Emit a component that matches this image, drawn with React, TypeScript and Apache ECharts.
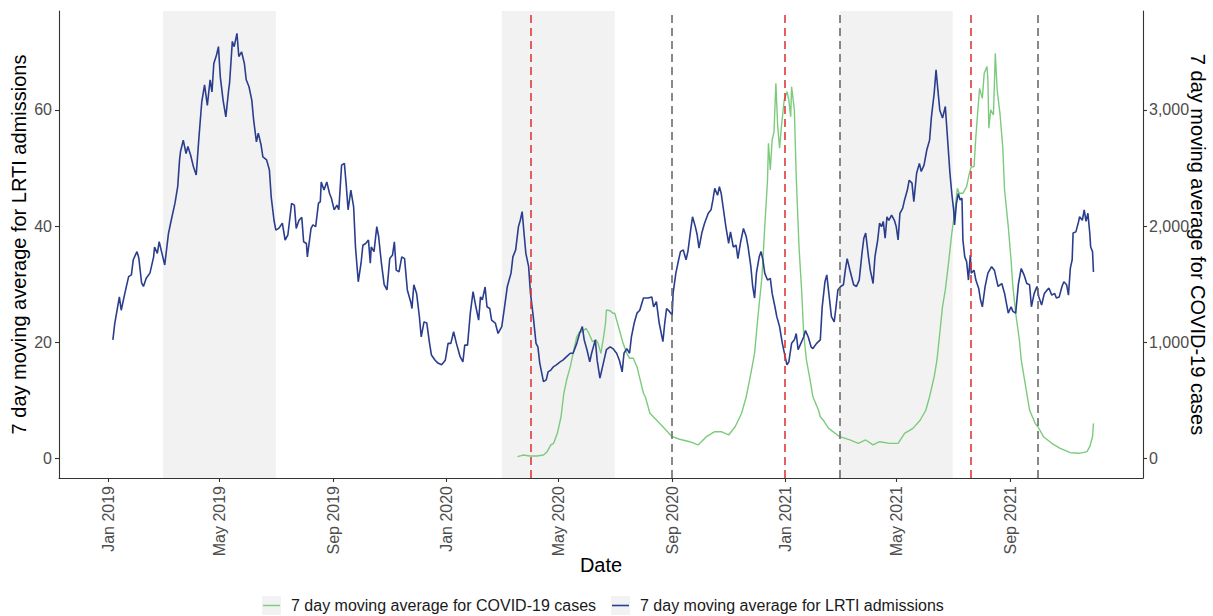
import React, { useEffect, useRef } from "react";
import * as echarts from "echarts";

// Days since 1 Jan 2019 and 7-day moving average of LRTI admissions
const lrtiDay = [5, 7, 12, 14, 18, 22, 25, 27, 31, 33, 36, 38, 41, 45, 49, 50, 53, 55, 58, 61, 65, 68, 72, 75, 77, 78, 81, 84, 86, 89, 92, 95, 98, 101, 104, 107, 110, 112, 114, 117, 119, 121, 124, 127, 130, 131, 134, 136, 139, 141, 144, 147, 149, 152, 155, 157, 160, 162, 165, 167, 171, 174, 176, 179, 181, 184, 185, 188, 191, 194, 198, 201, 203, 206, 209, 211, 214, 215, 219, 221, 224, 227, 229, 230, 233, 236, 239, 241, 244, 247, 249, 252, 255, 257, 259, 262, 265, 267, 270, 273, 275, 278, 281, 283, 284, 287, 290, 292, 295, 298, 301, 304, 307, 309, 311, 314, 317, 320, 323, 327, 328, 330, 333, 336, 338, 341, 344, 347, 349, 353, 356, 360, 364, 367, 370, 373, 376, 380, 383, 385, 388, 391, 394, 397, 400, 402, 404, 407, 409, 412, 414, 418, 421, 425, 428, 431, 435, 437, 440, 443, 445, 447, 449, 451, 454, 456, 459, 462, 464, 466, 470, 473, 475, 478, 481, 484, 488, 491, 495, 499, 502, 506, 509, 512, 514, 517, 520, 522, 526, 528, 531, 535, 538, 542, 545, 549, 552, 555, 557, 560, 563, 565, 568, 571, 574, 578, 583, 587, 589, 592, 595, 599, 601, 603, 606, 609, 610, 613, 616, 618, 621, 624, 626, 629, 631, 634, 636, 638, 641, 644, 648, 651, 653, 655, 658, 660, 662, 664, 667, 670, 672, 675, 678, 680, 683, 686, 689, 691, 694, 696, 698, 700, 703, 705, 707, 709, 712, 715, 717, 720, 722, 725, 728, 731, 733, 735, 738, 741, 743, 745, 748, 751, 753, 756, 759, 761, 765, 769, 771, 774, 776, 779, 781, 784, 786, 788, 791, 794, 796, 798, 801, 805, 808, 811, 814, 816, 818, 821, 823, 826, 828, 831, 833, 835, 837, 839, 841, 843, 846, 849, 851, 853, 855, 858, 860, 863, 865, 868, 870, 873, 876, 878, 881, 884, 887, 889, 892, 894, 896, 898, 901, 904, 905, 907, 909, 911, 913, 914, 916, 918, 920, 922, 923, 925, 927, 929, 931, 932, 935, 937, 940, 942, 944, 947, 950, 954, 957, 959, 961, 965, 968, 970, 972, 975, 977, 980, 983, 986, 989, 992, 995, 997, 1000, 1003, 1005, 1008, 1011, 1014, 1016, 1019, 1022, 1024, 1027, 1030, 1032, 1035, 1037, 1039, 1041, 1042, 1045, 1048, 1049, 1052, 1054, 1056, 1058, 1060, 1061, 1063, 1064];
const lrtiValue = [20.4, 23.2, 27.8, 25.5, 28.5, 31.3, 31.6, 34.2, 35.6, 34.5, 30.2, 29.6, 31, 31.9, 34.7, 36.4, 35.3, 37.3, 35.3, 33.3, 38.7, 41, 43.9, 46.8, 51.4, 52.8, 54.8, 52.5, 53.7, 52.2, 50.2, 48.8, 55.4, 61.4, 64.3, 60.8, 65.2, 63.1, 68, 69.5, 70.9, 65.7, 61.7, 58.8, 63.4, 64.6, 71.8, 70.9, 73.2, 69.2, 70, 68, 65.2, 64, 61.7, 58.3, 54.5, 56, 54, 51.9, 51.4, 49.7, 45, 41, 39.3, 39.6, 39.8, 40.5, 37.6, 38.5, 43.9, 43.6, 39.6, 41, 41.5, 37.3, 37, 34.7, 39.6, 40.2, 39.9, 43.9, 44.2, 47.6, 46.2, 47.6, 45.6, 44.8, 42.8, 43.6, 42.8, 50.5, 50.8, 47.1, 42.8, 46.2, 43.3, 36.4, 30.4, 33.6, 36.7, 37, 37.6, 33.6, 36.4, 35.6, 39.9, 38.2, 33.6, 29.9, 29, 34.4, 35, 37.3, 32.4, 32.1, 34.7, 34.4, 29, 26.7, 25.8, 29.9, 28.4, 24.4, 20.9, 23.5, 23.3, 19.8, 17.8, 16.9, 16.4, 16.1, 16.9, 19.8, 19.8, 21.8, 19.8, 17.5, 16.6, 19.5, 19.5, 25, 28.7, 26.1, 23.8, 27.8, 27.3, 29.5, 26.1, 25.8, 23.8, 23.3, 21.5, 22.7, 26.1, 29.6, 31.9, 34.7, 35.9, 39.9, 41, 42.5, 38.8, 35.3, 33, 28.4, 24.4, 19.8, 19.2, 16.4, 13.2, 13.5, 14.9, 15.2, 15.8, 16.1, 16.6, 16.9, 17.5, 18.1, 18.1, 19.8, 21.5, 22.7, 20.4, 18.7, 16.6, 18.1, 20.4, 16.9, 13.8, 16.6, 18.7, 19.2, 18.9, 18.1, 16.9, 14.9, 18.1, 18.9, 18.1, 20.9, 23.3, 25, 25.5, 27.6, 27.6, 27.8, 26.1, 27, 23.3, 20.1, 23.3, 25.8, 25.3, 24.7, 28.4, 31.9, 34.2, 35.6, 35.9, 34.2, 35.6, 39.3, 41.6, 39.9, 38.5, 36.2, 38.8, 40.5, 42.2, 42.8, 44.5, 46.5, 45.3, 46.8, 45.6, 43.3, 39.9, 37, 39, 36.4, 36.7, 34.4, 37.3, 39.6, 38.2, 36.4, 33, 29.6, 27.6, 31.9, 34.7, 35.6, 34.2, 31.9, 30.7, 31, 28.4, 26.1, 24.4, 22.7, 19.8, 17.5, 16.1, 16.6, 19.8, 20.4, 21.5, 18.7, 19.8, 20.9, 22, 20.9, 19.2, 18.9, 19.8, 20.4, 26, 30.4, 31.6, 27.3, 24.4, 23.5, 26.1, 29, 29.6, 29.9, 32.4, 34.4, 32.4, 29.9, 29.6, 30.7, 35.3, 37.9, 38.8, 34.7, 32.4, 30.1, 34.7, 37.6, 40.5, 39.9, 40.8, 37.9, 41.6, 41, 41.9, 41, 39.9, 37.6, 42.2, 43.1, 44.5, 46.2, 47.9, 47.4, 44.2, 49.1, 50.8, 49.4, 50.5, 53.1, 54.8, 58.8, 62.9, 66.9, 63.4, 60, 58.6, 60.6, 58.3, 53.7, 49.1, 45.6, 42.8, 40.2, 43.9, 45.6, 44.5, 44.8, 37.6, 34.7, 33.9, 30.7, 35, 31.9, 32.4, 30.7, 29.3, 27.3, 26.1, 29.6, 31.9, 33, 32.4, 31, 29.6, 30.1, 28.4, 26.7, 25, 26.1, 25.3, 25, 30.1, 32.7, 31.6, 30.1, 29.9, 26.1, 28.4, 29.6, 27.8, 26.4, 28.4, 29, 29.3, 28.1, 28.4, 27.6, 27.8, 29.6, 30.4, 29.9, 28.1, 32.7, 34.2, 38.8, 39, 40.8, 41.6, 41, 42.8, 40.8, 42.2, 38.8, 36.4, 35.6, 32.1];

// Days since 1 Jan 2019 and 7-day moving average of COVID-19 cases
const covidDay = [442, 448, 455, 463, 470, 474, 478, 481, 485, 489, 492, 495, 499, 502, 506, 509, 512, 516, 519, 523, 527, 529, 532, 535, 537, 538, 542, 545, 547, 550, 553, 556, 560, 563, 567, 571, 574, 578, 580, 585, 592, 599, 609, 617, 628, 637, 646, 655, 662, 670, 677, 684, 689, 694, 698, 702, 706, 709, 712, 713, 715, 717, 719, 721, 723, 725, 727, 730, 733, 735, 737, 738, 741, 743, 746, 749, 751, 754, 758, 761, 767, 769, 772, 778, 790, 801, 810, 818, 826, 833, 844, 853, 860, 869, 877, 883, 887, 892, 895, 898, 901, 904, 907, 911, 914, 917, 919, 923, 927, 930, 932, 935, 937, 940, 941, 944, 946, 949, 950, 951, 953, 956, 958, 960, 963, 966, 968, 972, 975, 977, 980, 984, 986, 989, 992, 995, 1001, 1004, 1010, 1019, 1028, 1039, 1049, 1057, 1060, 1063, 1064];
const covidCases = [14, 28, 20, 20, 28, 57, 115, 129, 215, 358, 560, 674, 789, 904, 1047, 1090, 1090, 1120, 1077, 1004, 1019, 990, 904, 1047, 1163, 1277, 1271, 1249, 1249, 1163, 1077, 990, 904, 861, 861, 789, 690, 560, 530, 388, 330, 272, 186, 164, 143, 115, 186, 229, 229, 201, 272, 388, 530, 732, 904, 1249, 1564, 1995, 2397, 2713, 2483, 2741, 2813, 3229, 2856, 2670, 2856, 3086, 3157, 3086, 2942, 3200, 3000, 2425, 1822, 1421, 1077, 847, 674, 530, 416, 358, 330, 258, 186, 158, 129, 158, 115, 143, 129, 129, 215, 258, 330, 416, 530, 703, 847, 1077, 1306, 1450, 1650, 1938, 2110, 2325, 2282, 2282, 2339, 2454, 2511, 2511, 2770, 3086, 3186, 3100, 3316, 3373, 3258, 2842, 3000, 2957, 3488, 3172, 2971, 2684, 2311, 1995, 1708, 1478, 1249, 1019, 847, 703, 560, 416, 301, 272, 186, 129, 86, 48, 43, 57, 100, 186, 301];

// Shaded seasons, dashed event lines, axis ticks (days since 1 Jan 2019)
const seasonStartDay = [59, 425, 790];
const seasonEndDay = [181, 547, 912];
const redLineDay = [456, 731, 931];
const greyLineDay = [609, 790, 1004];
const xTickDay = [0, 120, 243, 365, 486, 609, 731, 851, 974];
const xTickLabel = ["Jan 2019", "May 2019", "Sep 2019", "Jan 2020", "May 2020", "Sep 2020", "Jan 2021", "May 2021", "Sep 2021"];
const leftTicks = [0, 20, 40, 60];
const rightTicks = [0, 1000, 2000, 3000];

const covidName = "7 day moving average for COVID-19 cases";
const lrtiName = "7 day moving average for LRTI admissions";

const FONT = "'Liberation Sans', Arial, sans-serif";
const GREEN = "#7ccb7c";
const BLUE = "#2b3e8e";
const RED = "#dc3a3a";
const GREY = "#6b6b6b";

export default function App() {
  const ref = useRef<HTMLDivElement>(null);
  useEffect(() => {
    if (!ref.current) return;
    const chart = echarts.init(ref.current, undefined, { renderer: "svg" });
    const tickCol = "#4d4d4d";
    const axisLine = { show: true, onZero: false, lineStyle: { color: "#333333", width: 1.1 } };
    const axisTick = { show: true, length: 4, lineStyle: { color: "#333333", width: 1.1 } };
    chart.setOption({
      animation: false,
      grid: { left: 59, right: 70, top: 11, bottom: 138, containLabel: false, outerBoundsMode: "none" },
      xAxis: {
        type: "value",
        min: -53.2,
        max: 1117.5,
        name: "Date",
        nameLocation: "middle",
        nameGap: 77,
        nameMoveOverlap: false,
        nameTextStyle: { fontSize: 20, color: "#000", fontFamily: FONT },
        axisLine,
        axisTick: { ...axisTick, customValues: xTickDay },
        splitLine: { show: false },
        axisLabel: {
          customValues: xTickDay,
          rotate: 90,
          margin: 8,
          fontSize: 16,
          color: tickCol,
          fontFamily: FONT,
          formatter: (v: number) => {
            const i = xTickDay.indexOf(Math.round(v));
            return i >= 0 ? xTickLabel[i] : "";
          },
        },
      },
      yAxis: [
        {
          type: "value",
          min: -3.39,
          max: 77.04,
          position: "left",
          name: lrtiName,
          nameLocation: "middle",
          nameGap: 30,
          nameMoveOverlap: false,
          nameTextStyle: { fontSize: 20, color: "#000", fontFamily: FONT },
          axisLine,
          axisTick: { ...axisTick, customValues: leftTicks },
          splitLine: { show: false },
          axisLabel: { customValues: leftTicks, margin: 7, fontSize: 16, color: tickCol, fontFamily: FONT },
        },
        {
          type: "value",
          min: -169.6,
          max: 3852,
          position: "right",
          name: covidName,
          nameLocation: "middle",
          nameRotate: -90,
          nameGap: 45,
          nameMoveOverlap: false,
          nameTextStyle: { fontSize: 20, color: "#000", fontFamily: FONT },
          axisLine,
          axisTick: { ...axisTick, customValues: rightTicks },
          splitLine: { show: false },
          axisLabel: {
            customValues: rightTicks,
            margin: 6,
            fontSize: 16,
            color: tickCol,
            fontFamily: FONT,
            formatter: (v: number) => Math.round(v).toLocaleString("en-US"),
          },
        },
      ],
      series: [
        {
          type: "line",
          name: "seasons",
          data: [],
          z: 1,
          markArea: {
            silent: true,
            itemStyle: { color: "#f2f2f2" },
            data: seasonStartDay.map((s, i) => [{ xAxis: s }, { xAxis: seasonEndDay[i] }]),
          },
        },
        {
          type: "line",
          name: covidName,
          yAxisIndex: 1,
          data: covidDay.map((d, i) => [d, covidCases[i]]),
          symbol: "none",
          showSymbol: false,
          lineStyle: { color: GREEN, width: 1.4 },
          itemStyle: { color: GREEN },
          z: 2,
        },
        {
          type: "line",
          name: lrtiName,
          yAxisIndex: 0,
          data: lrtiDay.map((d, i) => [d, lrtiValue[i]]),
          symbol: "none",
          showSymbol: false,
          lineStyle: { color: BLUE, width: 1.6 },
          itemStyle: { color: BLUE },
          z: 3,
        },
        {
          type: "line",
          name: "events",
          data: [],
          z: 4,
          markLine: {
            silent: true,
            symbol: ["none", "none"],
            label: { show: false },
            data: [
              ...redLineDay.map((d) => ({ xAxis: d, lineStyle: { color: RED, width: 1.6, type: [8, 5] } })),
              ...greyLineDay.map((d) => ({ xAxis: d, lineStyle: { color: GREY, width: 1.6, type: [8, 5] } })),
            ],
          },
        },
      ],
      graphic: [
        { type: "rect", shape: { x: 262, y: 596, width: 19, height: 19 }, style: { fill: "#f2f2f2" } },
        { type: "line", shape: { x1: 263, y1: 605.5, x2: 280, y2: 605.5 }, style: { stroke: GREEN, lineWidth: 1.4 } },
        {
          type: "text",
          x: 291,
          y: 605.5,
          style: { text: covidName, font: `16px ${FONT}`, fill: "#1a1a1a", verticalAlign: "middle", align: "left" },
        },
        { type: "rect", shape: { x: 611, y: 596, width: 19, height: 19 }, style: { fill: "#f2f2f2" } },
        { type: "line", shape: { x1: 612, y1: 605.5, x2: 629, y2: 605.5 }, style: { stroke: BLUE, lineWidth: 1.6 } },
        {
          type: "text",
          x: 640,
          y: 605.5,
          style: { text: lrtiName, font: `16px ${FONT}`, fill: "#1a1a1a", verticalAlign: "middle", align: "left" },
        },
      ],
    });
    return () => chart.dispose();
  }, []);
  return <div ref={ref} style={{ position: "fixed", left: 0, top: 0, width: 1213, height: 616, background: "#fff" }} />;
}
